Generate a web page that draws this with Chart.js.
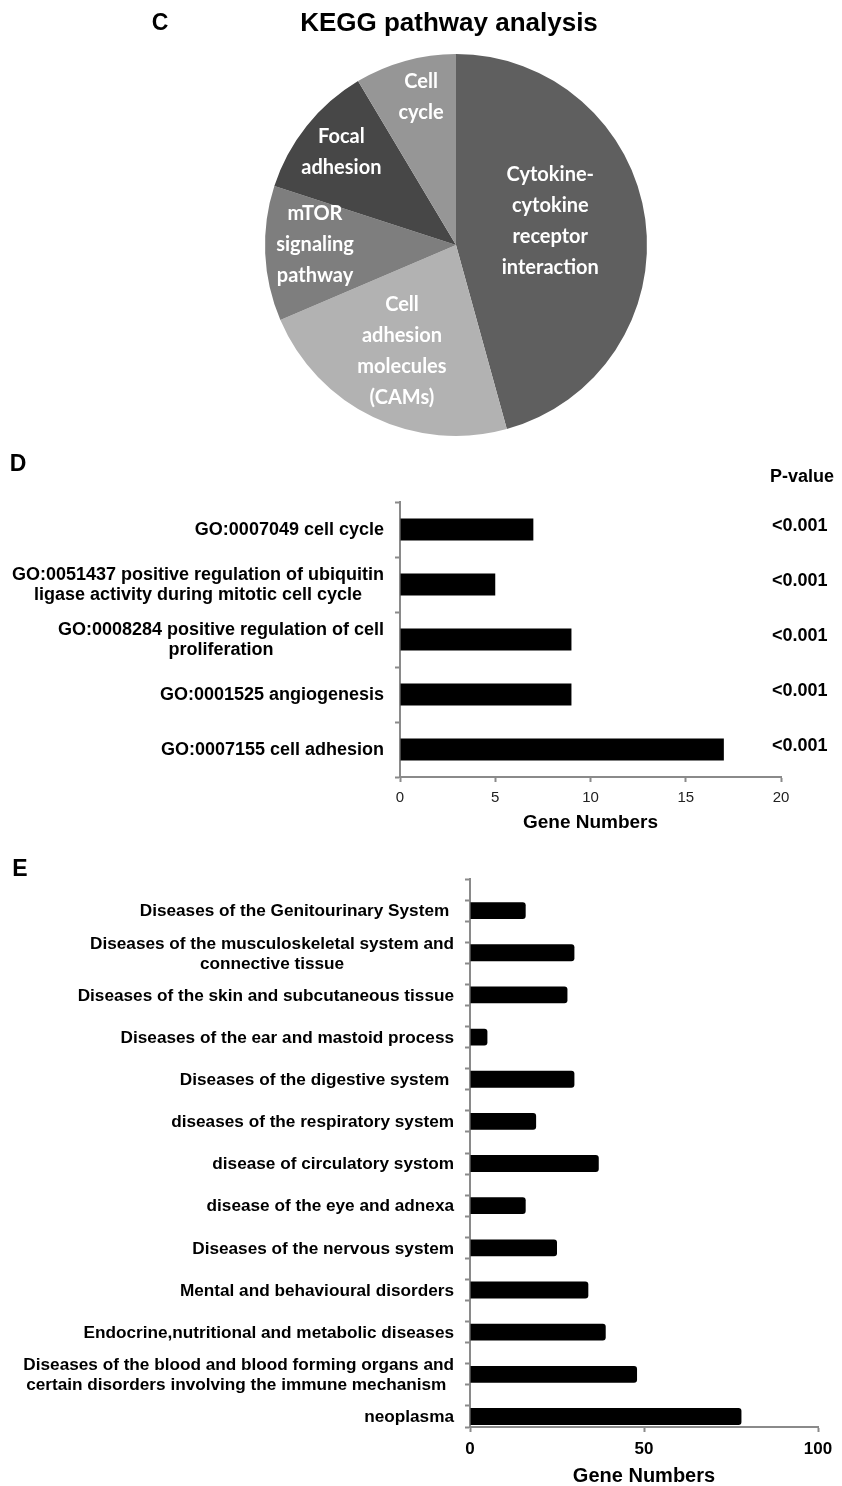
<!DOCTYPE html>
<html>
<head>
<meta charset="utf-8">
<title>KEGG / GO / disease enrichment</title>
<script src="https://cdn.jsdelivr.net/npm/chart.js@4.4.1/dist/chart.umd.min.js"></script>
<style>
  html, body { margin: 0; padding: 0; background: #fff; }
  body { width: 842px; height: 1486px; position: relative; overflow: hidden; }
  canvas { position: absolute; left: 0; display: block; }
  #kegg { top: 0; }
  #go { top: 440px; }
  #dis { top: 850px; }
</style>
</head>
<body>
<canvas id="kegg" width="842" height="440"></canvas>
<canvas id="go" width="842" height="410"></canvas>
<canvas id="dis" width="842" height="636"></canvas>
<script>
// ---- Panel C: KEGG pathways (gene counts per pathway) ----
const pathwayNames = [
  ['Cytokine-', 'cytokine', 'receptor', 'interaction'],
  ['Cell', 'adhesion', 'molecules', '(CAMs)'],
  ['mTOR', 'signaling', 'pathway'],
  ['Focal', 'adhesion'],
  ['Cell', 'cycle']
];
const pathwayGenes = [16, 8, 4, 4, 3];
const pathwayShades = ['#5f5f5f', '#b2b2b2', '#7e7e7e', '#474747', '#969696'];
// where each slice label sits: fraction of radius, angular shift (deg) from slice middle
const pathwayLabelSpot = [[0.51, -6.8], [0.625, 1.2], [0.738, 2.6], [0.774, 0.6], [0.794, 2.1]];

// ---- Panel D: GO terms ----
const goTerms = [
  'GO:0007049 cell cycle',
  ['GO:0051437 positive regulation of ubiquitin', 'ligase activity during mitotic cell cycle'],
  ['GO:0008284 positive regulation of cell', 'proliferation'],
  'GO:0001525 angiogenesis',
  'GO:0007155 cell adhesion'
];
const goGenes = [7, 5, 9, 9, 17];
const goPValues = ['<0.001', '<0.001', '<0.001', '<0.001', '<0.001'];
const goAxis = { min: 0, max: 20, step: 5 };

// ---- Panel E: disease classes ----
const diseaseNames = [
  'Diseases of the Genitourinary System ',
  ['Diseases of the musculoskeletal system and', 'connective tissue'],
  'Diseases of the skin and subcutaneous tissue',
  'Diseases of the ear and mastoid process',
  'Diseases of the digestive system ',
  'diseases of the respiratory system',
  'disease of circulatory systom',
  'disease of the eye and adnexa',
  'Diseases of the nervous system',
  'Mental and behavioural disorders',
  'Endocrine,nutritional and metabolic diseases',
  ['Diseases of the blood and blood forming organs and', 'certain disorders involving the immune mechanism '],
  'neoplasma'
];
const diseaseGenes = [16, 30, 28, 5, 30, 19, 37, 16, 25, 34, 39, 48, 78];
const diseaseAxis = { min: 0, max: 100, step: 50 };

const SANS = '"Liberation Sans", Arial, Helvetica, sans-serif';
const AXIS_GREY = '#8a8a8a';

// Free-standing text (panel letters, headings)
const captions = {
  id: 'captions',
  afterDraw(chart, args, opts) {
    const ctx = chart.ctx;
    ctx.save();
    (opts.items || []).forEach(it => {
      ctx.font = it.font;
      ctx.fillStyle = it.color || '#000';
      ctx.textAlign = it.align || 'center';
      ctx.textBaseline = 'middle';
      ctx.fillText(it.text, it.x, it.y);
    });
    ctx.restore();
  }
};

// Category labels on the y axis: block right-aligned to the axis, lines centred inside the block
const blockLabels = {
  id: 'blockLabels',
  afterDraw(chart, args, opts) {
    const ctx = chart.ctx;
    const scale = chart.scales.y;
    const labels = chart.data.labels;
    ctx.save();
    ctx.font = opts.font;
    ctx.fillStyle = opts.color;
    ctx.textAlign = 'center';
    ctx.textBaseline = 'middle';
    labels.forEach((lab, i) => {
      const lines = Array.isArray(lab) ? lab : [lab];
      if (!lines.join('').length) return;
      const widest = Math.max(...lines.map(l => ctx.measureText(l).width));
      const cx = scale.right - opts.gap - widest / 2;
      const cy = scale.getPixelForValue(i) + (opts.shift || 0);
      lines.forEach((l, j) => {
        ctx.fillText(l, cx, cy + (j - (lines.length - 1) / 2) * opts.lineHeight);
      });
    });
    ctx.restore();
  }
};

// ---- C: pie ----
const sliceLabels = {
  id: 'sliceLabels',
  afterDatasetsDraw(chart) {
    const ctx = chart.ctx;
    const meta = chart.getDatasetMeta(0);
    ctx.save();
    ctx.font = 'bold 20px Lato, "Open Sans", sans-serif';
    ctx.fillStyle = '#ffffff';
    ctx.textAlign = 'center';
    ctx.textBaseline = 'middle';
    meta.data.forEach((arc, i) => {
      const p = arc.getProps(['x', 'y', 'startAngle', 'endAngle', 'outerRadius'], true);
      const spot = pathwayLabelSpot[i];
      const a = (p.startAngle + p.endAngle) / 2 + spot[1] * Math.PI / 180;
      const r = p.outerRadius * spot[0];
      const cx = p.x + Math.cos(a) * r;
      const cy = p.y + Math.sin(a) * r;
      const lines = pathwayNames[i];
      lines.forEach((l, j) => ctx.fillText(l, cx, cy + (j - (lines.length - 1) / 2) * 31));
    });
    ctx.restore();
  }
};

new Chart(document.getElementById('kegg'), {
  type: 'pie',
  data: {
    labels: pathwayNames.map(n => n.join(' ')),
    datasets: [{ data: pathwayGenes, backgroundColor: pathwayShades, borderWidth: 0 }]
  },
  options: {
    responsive: false,
    animation: false,
    layout: { padding: { left: 265, right: 195, top: 54, bottom: 4 } },
    plugins: {
      legend: { display: false },
      tooltip: { enabled: false },
      captions: {
        items: [
          { text: 'C', x: 160, y: 24, font: 'bold 23px ' + SANS },
          { text: 'KEGG pathway analysis', x: 449, y: 24, font: 'bold 26px ' + SANS }
        ]
      }
    }
  },
  plugins: [sliceLabels, captions]
});

// ---- D: GO terms ----
const pValueColumn = {
  id: 'pValueColumn',
  afterDraw(chart) {
    const ctx = chart.ctx;
    const y = chart.scales.y;
    ctx.save();
    ctx.font = 'bold 18px ' + SANS;
    ctx.fillStyle = '#000';
    ctx.textAlign = 'left';
    ctx.textBaseline = 'middle';
    goPValues.forEach((p, i) => ctx.fillText(p, 772, y.getPixelForValue(i) - 3));
    ctx.restore();
  }
};

new Chart(document.getElementById('go'), {
  type: 'bar',
  data: {
    labels: goTerms,
    datasets: [{ data: goGenes, backgroundColor: '#000', barPercentage: 0.4, categoryPercentage: 1.0 }]
  },
  options: {
    indexAxis: 'y',
    responsive: false,
    animation: false,
    layout: { padding: { left: 0, right: 61, top: 62, bottom: 0 } },
    scales: {
      x: {
        type: 'linear', min: goAxis.min, max: goAxis.max,
        ticks: { stepSize: goAxis.step, color: '#222', padding: 7, font: { family: SANS, size: 15 } },
        grid: { drawOnChartArea: false, tickLength: 5, tickColor: AXIS_GREY, tickWidth: 2 },
        border: { color: AXIS_GREY, width: 2 },
        title: { display: true, text: 'Gene Numbers', color: '#000',
                 font: { family: SANS, size: 19, weight: 'bold', lineHeight: 1 }, padding: { top: 0, bottom: 18 } },
        afterFit(s) { s.height = 73; }
      },
      y: {
        type: 'category',
        ticks: { display: false, autoSkip: false },
        grid: { offset: true, drawOnChartArea: false, tickLength: 5, tickColor: AXIS_GREY, tickWidth: 2 },
        border: { color: AXIS_GREY, width: 2 },
        afterFit(s) { s.width = 400; }
      }
    },
    plugins: {
      legend: { display: false },
      tooltip: { enabled: false },
      blockLabels: { font: 'bold 18px ' + SANS, color: '#000', gap: 16, lineHeight: 20, shift: 1 },
      captions: {
        items: [
          { text: 'D', x: 18, y: 25, font: 'bold 23px ' + SANS },
          { text: 'P-value', x: 770, y: 37, font: 'bold 18px ' + SANS, align: 'left' }
        ]
      }
    }
  },
  plugins: [blockLabels, pValueColumn, captions]
});

// ---- E: disease classes (a spacer slot above each class) ----
const diseaseSlots = [];
const diseaseSlotValues = [];
diseaseNames.forEach((n, i) => {
  diseaseSlots.push('');
  diseaseSlotValues.push(null);
  diseaseSlots.push(n);
  diseaseSlotValues.push(diseaseGenes[i]);
});

new Chart(document.getElementById('dis'), {
  type: 'bar',
  data: {
    labels: diseaseSlots,
    datasets: [{ data: diseaseSlotValues, backgroundColor: '#000', barPercentage: 0.8, categoryPercentage: 1.0,
                 borderRadius: 3, borderSkipped: 'start' }]
  },
  options: {
    indexAxis: 'y',
    responsive: false,
    animation: false,
    layout: { padding: { left: 0, right: 24, top: 29, bottom: 0 } },
    scales: {
      x: {
        type: 'linear', min: diseaseAxis.min, max: diseaseAxis.max,
        ticks: { stepSize: diseaseAxis.step, color: '#000', padding: 7, font: { family: SANS, size: 17, weight: 'bold' } },
        grid: { drawOnChartArea: false, tickLength: 5, tickColor: AXIS_GREY, tickWidth: 2 },
        border: { color: AXIS_GREY, width: 2 },
        title: { display: true, text: 'Gene Numbers', color: '#000',
                 font: { family: SANS, size: 20, weight: 'bold', lineHeight: 1 }, padding: { top: 0, bottom: 0 } },
        afterFit(s) { s.height = 59; }
      },
      y: {
        type: 'category',
        ticks: { display: false, autoSkip: false },
        grid: { offset: true, drawOnChartArea: false, tickLength: 5, tickColor: AXIS_GREY, tickWidth: 2 },
        border: { color: AXIS_GREY, width: 2 },
        afterFit(s) { s.width = 470; }
      }
    },
    plugins: {
      legend: { display: false },
      tooltip: { enabled: false },
      blockLabels: { font: 'bold 17.2px ' + SANS, color: '#000', gap: 16, lineHeight: 20, shift: 1 },
      captions: {
        items: [
          { text: 'E', x: 20, y: 20, font: 'bold 23px ' + SANS }
        ]
      }
    }
  },
  plugins: [blockLabels, captions]
});
</script>
</body>
</html>
